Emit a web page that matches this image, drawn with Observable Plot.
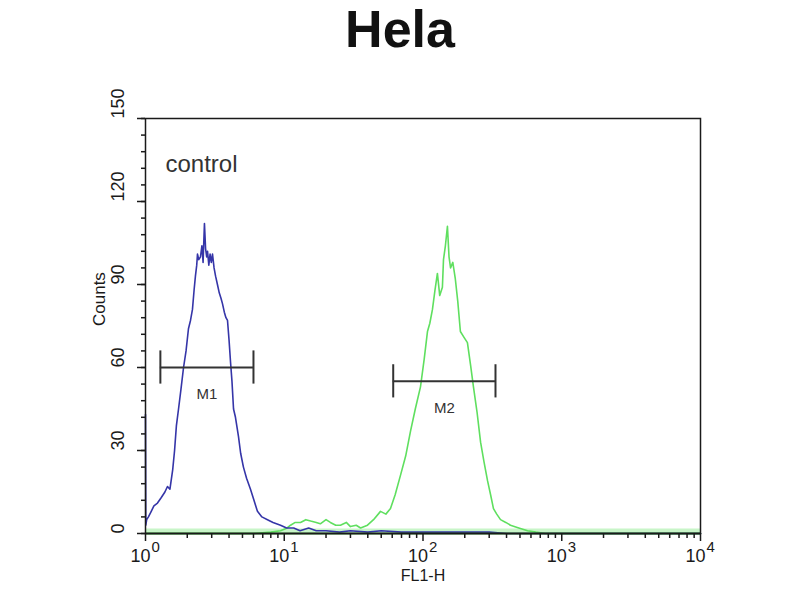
<!DOCTYPE html>
<html>
<head>
<meta charset="utf-8">
<script src="https://cdn.jsdelivr.net/npm/d3@7"></script>
<script src="https://cdn.jsdelivr.net/npm/@observablehq/plot@0.6"></script>
<style>
  body { margin: 0; background: #fff; font-family: "Liberation Sans", Arial, sans-serif; }
  h1 { margin: 0; height: 59px; line-height: 59px; font-size: 52px; font-weight: bold; text-align: center; color: #111; }
</style>
</head>
<body>
<h1>Hela</h1>
<div id="chart"></div>
<script>
// control histogram (blue)
const blueFL1 = [
  1, 1.005, 1.02, 1.05, 1.1, 1.15, 1.22, 1.3, 1.38, 1.44,
  1.5, 1.57, 1.62, 1.67, 1.73, 1.8, 1.88, 1.96, 2.04, 2.11,
  2.18, 2.24, 2.29, 2.34, 2.37, 2.42, 2.49, 2.55, 2.6, 2.66,
  2.71, 2.76, 2.8, 2.86, 2.92, 2.98, 3.04, 3.12, 3.2, 3.3,
  3.4, 3.5, 3.59, 3.7, 3.8, 3.9, 4.0, 4.1, 4.2, 4.31,
  4.45, 4.58, 4.68, 4.85, 5.08, 5.35, 5.71, 6.05, 6.41, 6.9,
  7.57, 8.3, 9.4, 10.4, 11.7, 13, 15, 17, 20, 25,
  30, 40, 50, 70, 100, 150, 200, 300, 400, 1000,
  10000
];
const blueCounts = [
  43, 3, 5, 6, 8, 10, 11, 13, 15, 17,
  16, 23, 30, 39, 45, 52, 60, 66, 74, 77,
  81, 88, 93, 97, 101, 99, 100, 104, 98, 112,
  103, 100, 102, 97, 101, 98, 101, 96, 93, 90,
  87, 85, 83, 80, 78, 77, 70, 62, 55, 45,
  42, 38, 35, 29, 24, 20, 16, 12, 8, 6,
  5, 4, 3, 2, 2, 1, 2, 1, 1, 0.5,
  1, 0.5, 1, 0.5, 0.5, 0.5, 0.5, 0.5, 0, 0,
  0
];
// sample histogram (green)
const greenFL1 = [
  1, 6, 8, 9.4, 10.5, 11.1, 12, 13.1, 14.3, 15.5,
  17, 18.2, 20, 21.5, 23.5, 25.4, 28, 30, 33, 35.5,
  39.8, 44, 49.4, 54, 58.3, 63, 68.8, 75, 81.3, 88,
  95.9, 102, 107.7, 112, 117, 122, 127, 132, 138, 140.5,
  145, 150, 154, 158, 164, 171, 178, 186, 197, 209,
  220, 231, 245, 260, 275, 292, 307, 322, 340, 362,
  395, 427, 490, 567, 650, 763, 10000
];
const greenCounts = [
  0, 0, 0.5, 1, 2, 3, 4, 4, 5, 4.5,
  4, 3.5, 5, 4, 3, 3, 4, 2.5, 3, 2,
  3, 5, 8, 7, 9, 14, 21, 28, 37, 45,
  53, 63, 73, 76, 81, 88, 94, 86, 89, 99,
  104, 111, 100, 96, 98, 92, 84, 73, 71, 69,
  61, 53, 44, 33, 26, 19, 14, 9, 7, 5,
  4, 3, 2, 1, 0.5, 0, 0
];
// gates
const markerNames = ["M1", "M2"];
const markerStart = [1.28, 61];
const markerEnd = [6.0, 333];
const markerLevel = [60, 55];

const decades = [1, 10, 100, 1000, 10000];
const exponents = ["0", "1", "2", "3", "4"];
const yTicks = [0, 30, 60, 90, 120, 150];

const blue = blueFL1.map((x, i) => ({x, y: blueCounts[i]}));
const green = greenFL1.map((x, i) => ({x, y: greenCounts[i]}));
const markers = markerNames.map((name, i) => ({
  name, x1: markerStart[i], x2: markerEnd[i], y: markerLevel[i],
  mid: Math.sqrt(markerStart[i] * markerEnd[i])
}));
const minorX = decades.slice(0, -1).flatMap(d => [2, 3, 4, 5, 6, 7, 8, 9].map(k => k * d));
const minorY = d3.range(0, 151, 6);

const blueColor = "#3535a8";
const greenColor = "#5fdf5f";
const ink = "#1a1a1a";

let chart = Plot.plot({
  width: 800,
  height: 541,
  marginTop: 59,
  marginBottom: 67,
  marginLeft: 145,
  marginRight: 100,
  style: {fontFamily: "Liberation Sans, Arial, sans-serif", color: ink, background: "#fff"},
  x: {type: "log", domain: [1, 10000], axis: null},
  y: {domain: [0, 150], axis: null},
  marks: [
    Plot.ruleY([0], {stroke: "#c8f5c8", strokeWidth: 6, dy: -2}),
    Plot.line(green, {x: "x", y: "y", stroke: greenColor, strokeWidth: 1.6}),
    Plot.line(blue, {x: "x", y: "y", stroke: blueColor, strokeWidth: 1.6}),
    Plot.ruleY([0], {stroke: "#2f5f2f", strokeWidth: 2}),
    // gate bars
    Plot.ruleY(markers, {x1: "x1", x2: "x2", y: "y", stroke: "#333", strokeWidth: 2}),
    Plot.ruleX(markers, {x: "x1", y1: d => d.y - 6, y2: d => d.y + 6, stroke: "#333", strokeWidth: 2}),
    Plot.ruleX(markers, {x: "x2", y1: d => d.y - 6, y2: d => d.y + 6, stroke: "#333", strokeWidth: 2}),
    Plot.text(markers, {x: "mid", y: "y", text: "name", dy: 27, fontSize: 15, fill: "#333"}),
    Plot.text(["control"], {frameAnchor: "top-left", dx: 20, dy: 36, textAnchor: "start", fontSize: 24, fill: "#333"}),
    Plot.frame({stroke: ink, strokeWidth: 1.5}),
    // axes
    Plot.axisX(decades, {tickSize: 8, tickFormat: () => "", label: null, stroke: ink, strokeWidth: 1.5}),
    Plot.axisX(minorX, {tickSize: 5, tickFormat: () => "", label: null, stroke: ink, strokeWidth: 1.5}),
    Plot.axisY(yTicks, {tickSize: 8, tickFormat: () => "", label: null, stroke: ink, strokeWidth: 1.5}),
    Plot.axisY(minorY, {tickSize: 4, tickFormat: () => "", label: null, stroke: ink, strokeWidth: 1.5}),
    Plot.text(decades, {x: d => d, text: () => "10", frameAnchor: "bottom", dy: 28, dx: 5, textAnchor: "end", fontSize: 18, fill: ink}),
    Plot.text(decades, {x: d => d, text: (d, i) => exponents[i], frameAnchor: "bottom", dy: 18, dx: 6, textAnchor: "start", fontSize: 15, fill: ink}),
    Plot.text(yTicks, {y: d => d, text: d => String(d), frameAnchor: "left", dx: -27, rotate: -90, fontSize: 18, fill: ink}),
    Plot.text(["Counts"], {frameAnchor: "left", dx: -46, rotate: -90, fontSize: 17, fill: ink}),
    Plot.text(["FL1-H"], {frameAnchor: "bottom", dy: 47, fontSize: 16, fill: ink})
  ]
});

d3.select("#chart").append(() => chart);
</script>
</body>
</html>
